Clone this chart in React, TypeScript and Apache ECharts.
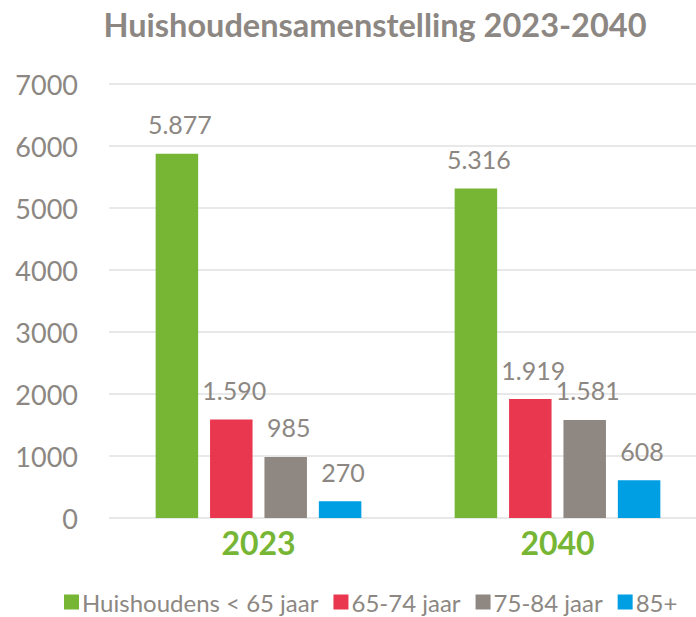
import React, { useEffect, useRef } from "react";
import * as echarts from "echarts";

const categories = ["2023", "2040"];
const seriesNames = ["Huishoudens < 65 jaar", "65-74 jaar", "75-84 jaar", "85+"];
const under65 = [5877, 5316];
const age65to74 = [1590, 1919];
const age75to84 = [985, 1581];
const age85plus = [270, 608];
const colors = ["#76b634", "#e8374f", "#8f8882", "#009fe3"];
const yTicks = { min: 0, max: 7000, interval: 1000 };

const textGray = "#8c8782";
const font = "Lato, 'Open Sans', sans-serif";

function fmt(v: number): string {
  return String(v).replace(/\B(?=(\d{3})+(?!\d))/g, ".");
}

export default function App() {
  const ref = useRef<HTMLDivElement>(null);
  useEffect(() => {
    if (!ref.current) return;
    const chart = echarts.init(ref.current, undefined, { renderer: "svg" });
    const data = [under65, age65to74, age75to84, age85plus];
    chart.setOption({
      animation: false,
      textStyle: { fontFamily: font },
      title: {
        text: "Huishoudensamenstelling 2023-2040",
        left: 370,
        textAlign: "center",
        top: 3,
        textStyle: { fontFamily: font, fontSize: 32.5, fontWeight: "bold", color: textGray },
      },
      legend: {
        bottom: -2,
        left: 59,
        itemWidth: 15,
        itemHeight: 15,
        itemGap: 15,
        icon: "rect",
        textStyle: { fontFamily: font, fontSize: 24, color: textGray, padding: [0, 0, 0, -2] },
        data: seriesNames,
      },
      grid: { left: 109, right: 3, top: 84, bottom: 99, containLabel: false },
      xAxis: {
        type: "category",
        data: categories,
        axisLine: { show: false },
        axisTick: { show: false },
        axisLabel: {
          fontFamily: font,
          fontSize: 32,
          fontWeight: "bold",
          color: "#76b634",
          margin: 8,
        },
      },
      yAxis: {
        type: "value",
        min: yTicks.min,
        max: yTicks.max,
        interval: yTicks.interval,
        axisLine: { show: false },
        axisTick: { show: false },
        splitLine: { lineStyle: { color: "#e0e0e0", width: 1.5 } },
        axisLabel: {
          fontFamily: font,
          fontSize: 27,
          color: textGray,
          margin: 31,
          formatter: (v: number) => String(v),
        },
      },
      series: seriesNames.map((name, i) => ({
        name,
        type: "bar",
        data: data[i],
        barWidth: 42.5,
        barGap: "28%",
        itemStyle: { color: colors[i] },
        label: {
          show: true,
          position: "top",
          distance: 17,
          offset: [3, 0],
          fontFamily: font,
          fontSize: 25,
          color: textGray,
          formatter: (p: any) => fmt(p.value),
        },
      })),
    });
    return () => chart.dispose();
  }, []);
  return (
    <div
      style={{
        position: "absolute",
        left: 0,
        top: 0,
        width: 696,
        height: 617,
        overflow: "hidden",
      }}
    >
      <div ref={ref} style={{ width: 710, height: 617 }} />
    </div>
  );
}
